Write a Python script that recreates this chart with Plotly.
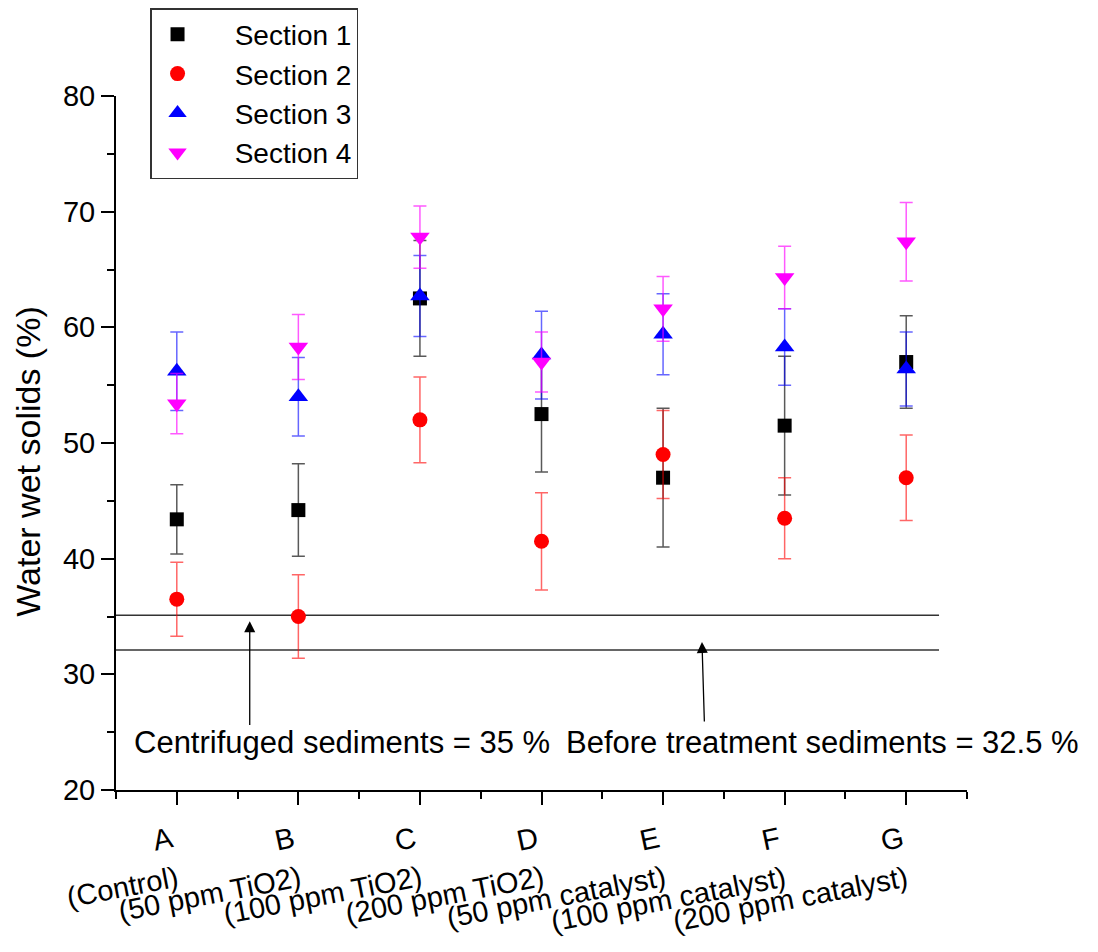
import plotly.graph_objects as go

# ---------------- data ----------------
categories = ["A", "B", "C", "D", "E", "F", "G"]
treatments = ["(Control)", "(50 ppm TiO2)", "(100 ppm TiO2)", "(200 ppm TiO2)",
              "(50 ppm catalyst)", "(100 ppm catalyst)", "(200 ppm catalyst)"]
x_pos = [1, 2, 3, 4, 5, 6, 7]

s1 = [43.4, 44.2, 62.5, 52.5, 47.0, 51.5, 57.0]
s1_err = [3.0, 4.0, 5.0, 5.0, 6.0, 6.0, 4.0]
s2 = [36.5, 35.0, 52.0, 41.5, 49.0, 43.5, 47.0]
s2_err = [3.2, 3.6, 3.7, 4.2, 3.8, 3.5, 3.7]
s3 = [56.2, 54.0, 62.7, 57.6, 59.4, 58.3, 56.4]
s3_err = [3.4, 3.4, 3.5, 3.8, 3.5, 3.3, 3.2]
s4 = [53.4, 58.3, 67.8, 57.0, 61.6, 64.3, 67.4]
s4_err = [2.6, 2.8, 2.7, 2.6, 2.8, 2.7, 3.4]

series_names = ["Section 1", "Section 2", "Section 3", "Section 4"]

ref_x = [0.5, 7.27]
ref_centrifuged = 35.1
ref_before = 32.1
ref_labels = ["Centrifuged sediments = 35 %", "Before treatment sediments = 32.5 %"]
# arrow tip / tail positions (data units)
arrow1 = dict(x=1.60, y=34.6, ax=1.60, ay=25.5)
arrow2 = dict(x=5.32, y=32.8, ax=5.34, ay=25.8)
label_pos = [(2.355, 24.1), (6.31, 24.1)]

FONT = "Liberation Sans, Arial, sans-serif"
NB = "\u00a0"

fig = go.Figure()

styles = [
    dict(symbol="square", size=14, color="#000000", ecol="rgba(0,0,0,0.65)"),
    dict(symbol="circle", size=15, color="#ff0000", ecol="rgba(255,0,0,0.6)"),
    dict(symbol="triangle-up", size=17, color="#0000ff", ecol="rgba(0,0,255,0.6)"),
    dict(symbol="triangle-down", size=17, color="#ff00ff", ecol="rgba(255,0,255,0.65)"),
]
vals = [s1, s2, s3, s4]
errs = [s1_err, s2_err, s3_err, s4_err]

# reference lines
for yv in (ref_centrifuged, ref_before):
    fig.add_trace(go.Scatter(x=ref_x, y=[yv, yv], mode="lines",
                             line=dict(color="#333333", width=1.5),
                             showlegend=False, hoverinfo="skip"))

for name, v, e, st in zip(series_names, vals, errs, styles):
    fig.add_trace(go.Scatter(
        x=x_pos, y=v, mode="markers", name=NB * 4 + name,
        marker=dict(symbol=st["symbol"], size=st["size"], color=st["color"],
                    line=dict(width=0)),
        error_y=dict(type="data", array=e, visible=True, color=st["ecol"],
                     thickness=1.5, width=6.5),
    ))

annotations = []
# category tick labels (two parts)
for xc, cat, tr in zip(x_pos, categories, treatments):
    annotations.append(dict(x=xc, y=0, xref="x", yref="paper", text=cat,
                            showarrow=False, xanchor="center", yanchor="middle",
                            xshift=-14, yshift=-49, textangle=-12,
                            font=dict(family=FONT, size=29, color="black")))
    annotations.append(dict(x=xc, y=0, xref="x", yref="paper", text=tr,
                            showarrow=False, xanchor="right", yanchor="top",
                            xshift=7, yshift=-68, textangle=-11,
                            font=dict(family=FONT, size=29, color="black")))

# arrows
for a in (arrow1, arrow2):
    annotations.append(dict(x=a["x"], y=a["y"], ax=a["ax"], ay=a["ay"],
                            xref="x", yref="y", axref="x", ayref="y",
                            text="", showarrow=True, arrowhead=2, arrowsize=1.7,
                            arrowwidth=1.3, arrowcolor="black"))

for (lx, ly), txt in zip(label_pos, ref_labels):
    annotations.append(dict(x=lx, y=ly, xref="x", yref="y", text=txt,
                            showarrow=False, xanchor="center", yanchor="middle",
                            font=dict(family=FONT, size=31, color="black")))

# y-axis title
annotations.append(dict(x=-0.1034, y=0.473, xref="paper", yref="paper",
                        text="Water wet solids (%)", showarrow=False,
                        textangle=-90, xanchor="center", yanchor="middle",
                        font=dict(family=FONT, size=34, color="black")))

fig.update_layout(
    width=1098, height=952,
    margin=dict(l=116, r=131, t=96, b=162, autoexpand=False),
    paper_bgcolor="white", plot_bgcolor="white",
    font=dict(family=FONT, size=29, color="black"),
    showlegend=True,
    legend=dict(x=0.04, y=1.1268, xanchor="left", yanchor="top",
                bgcolor="white", bordercolor="#333333", borderwidth=1.5,
                font=dict(family=FONT, size=28, color="black"),
                itemwidth=42, tracegroupgap=0),
    annotations=annotations,
    xaxis=dict(range=[0.5, 7.5], tickvals=x_pos, showticklabels=False,
               ticks="outside", ticklen=13, tickwidth=2, tickcolor="black",
               showline=True, linewidth=2, linecolor="black",
               showgrid=False, zeroline=False,
               minor=dict(tick0=0.5, dtick=0.5, ticks="outside", ticklen=7,
                          tickwidth=2, tickcolor="black", showgrid=False)),
    yaxis=dict(range=[20, 80], dtick=10, ticks="outside", ticklen=13,
               tickwidth=2, tickcolor="black",
               showline=True, linewidth=2, linecolor="black",
               showgrid=False, zeroline=False,
               tickfont=dict(family=FONT, size=29, color="black"),
               minor=dict(dtick=5, ticks="outside", ticklen=7, tickwidth=2,
                          tickcolor="black", showgrid=False)),
)

fig.write_html("out.html")
